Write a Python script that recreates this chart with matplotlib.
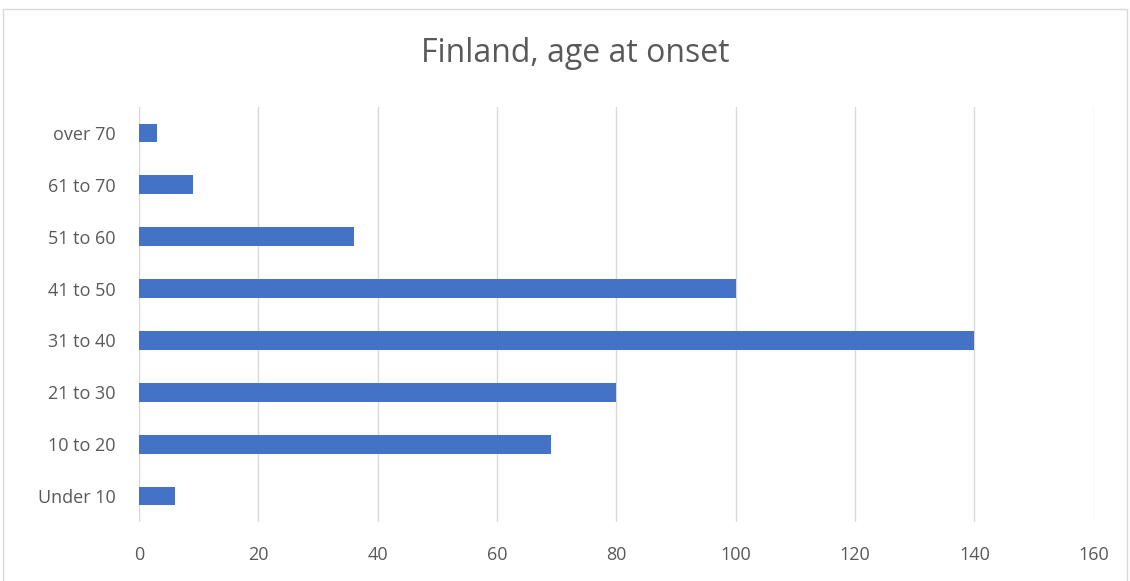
import matplotlib
matplotlib.use("Agg")
import matplotlib.pyplot as plt
from matplotlib.patches import Rectangle

# data
categories = ["Under 10", "10 to 20", "21 to 30", "31 to 40",
              "41 to 50", "51 to 60", "61 to 70", "over 70"]
counts = [6, 69, 80, 140, 100, 36, 9, 3]
x_ticks = [0, 20, 40, 60, 80, 100, 120, 140, 160]

plt.rcParams['font.family'] = ['Open Sans', 'DejaVu Sans']

fig = plt.figure(figsize=(11.3, 5.81), dpi=100)
ax = fig.add_axes([0.123, 0.1015, 0.845, 0.7145])

# thin frame round the whole chart
fig.patches.append(Rectangle((3 / 1130, -0.01), 1124 / 1130, 1 - 9 / 581 + 0.01,
                             transform=fig.transFigure, fill=False,
                             edgecolor="#D9D9D9", linewidth=1))

ax.barh(range(len(categories)), counts, height=0.36, color="#4472C4")
ax.set_yticks(range(len(categories)))
ax.set_yticklabels(categories)
ax.set_ylim(-0.5, len(categories) - 0.5)
ax.set_xticks(x_ticks)
ax.set_xlim(0, 160)

ax.grid(axis="x", color="#D9D9D9", linewidth=1)
ax.set_axisbelow(True)
for s in ax.spines.values():
    s.set_visible(False)
ax.tick_params(length=0, labelsize=13, colors="#595959")
ax.tick_params(axis="y", pad=17)
ax.tick_params(axis="x", pad=17)

fig.text(0.509, 0.908, "Finland, age at onset", ha="center", va="center",
         fontsize=23, color="#595959")

fig.savefig("out.png", dpi=100)
